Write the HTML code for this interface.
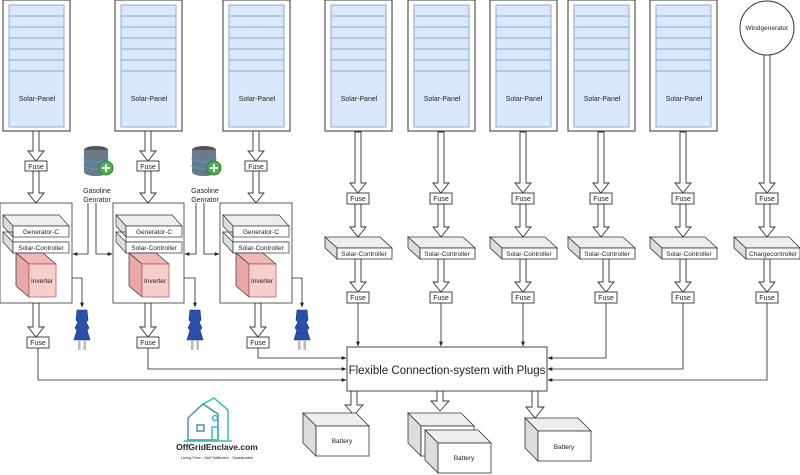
<!DOCTYPE html>
<html><head><meta charset="utf-8"><style>
html,body{margin:0;padding:0;background:#fff}
svg{display:block}
text{font-family:"Liberation Sans",sans-serif;fill:#222}
</style></head><body>
<svg width="800" height="475" viewBox="0 0 800 475" xmlns="http://www.w3.org/2000/svg">
<defs>
<g id="panel">
<rect x="0" y="0" width="67" height="131" fill="#fff" stroke="#333" stroke-width="1"/>
<rect x="6" y="5" width="55" height="122" fill="#dae8fc" stroke="#8ea9cf" stroke-width="1"/>
<path d="M6 16H61M6 27H61M6 38H61M6 49H61M6 60H61M6 71H61" stroke="#8ea9cf" stroke-width="1"/>
</g>
<marker id="ah" viewBox="0 0 10 10" refX="9" refY="5" markerWidth="6" markerHeight="6" orient="auto"><path d="M0 1L10 5L0 9z" fill="#222"/></marker>
<g id="plug">
<path d="M-5 0 L5 0 L6 10 L4 12 L7 18 L5 20 L8 30 L-8 30 L-5 20 L-7 18 L-4 12 L-6 10Z" fill="#2a4fa8" stroke="#1a2f70" stroke-width="0.6"/>
<rect x="-4" y="30" width="2.5" height="10" fill="#bbb"/><rect x="1.5" y="30" width="2.5" height="10" fill="#bbb"/>
</g>
<g id="db">
<ellipse cx="0" cy="0" rx="12" ry="4" fill="#555"/>
<path d="M-12 0V22A12 4 0 0 0 12 22V0" fill="#6c7a86"/>
<path d="M-12 8A12 4 0 0 0 12 8M-12 15A12 4 0 0 0 12 15" stroke="#4a90c8" stroke-width="1.5" fill="none"/>
<circle cx="10" cy="18" r="7" fill="#4caf50" stroke="#2e7d32"/>
<path d="M10 14V22M6 18H14" stroke="#fff" stroke-width="2"/>
</g>
</defs>

<!-- panels -->
<use href="#panel" x="3" y="0"/><use href="#panel" x="115" y="0"/><use href="#panel" x="223" y="0"/>
<use href="#panel" x="325" y="0"/><use href="#panel" x="408" y="0"/><use href="#panel" x="490" y="0"/><use href="#panel" x="568" y="0"/><use href="#panel" x="650" y="0"/>
<g font-size="7" text-anchor="middle">
<text x="37" y="101">Solar-Panel</text><text x="149" y="101">Solar-Panel</text><text x="257" y="101">Solar-Panel</text>
<text x="359" y="101">Solar-Panel</text><text x="442" y="101">Solar-Panel</text><text x="524" y="101">Solar-Panel</text><text x="602" y="101">Solar-Panel</text><text x="684" y="101">Solar-Panel</text>
</g>
<circle cx="767" cy="28" r="27" fill="#fff" stroke="#333"/>
<text x="767" y="30" font-size="6.5" text-anchor="middle">Windgenerator</text>

<!-- hollow arrows -->
<g fill="#fff" stroke="#333" stroke-width="0.9">
<!-- left columns -->
<path d="M33 131V151H28L36 161L44 151H39V131Z"/><path d="M33 171V193H28L36 203L44 193H39V171Z"/><path d="M33 303V327H28L36 337L44 327H39V303Z"/>
<path d="M145 131V151H140L148 161L156 151H151V131Z"/><path d="M145 171V193H140L148 203L156 193H151V171Z"/><path d="M145 303V327H140L148 337L156 327H151V303Z"/>
<path d="M253 131V151H248L256 161L264 151H259V131Z"/><path d="M253 171V193H248L256 203L264 193H259V171Z"/><path d="M255 303V327H250L258 337L266 327H261V303Z"/>
<!-- right columns -->
<path d="M355 132V183H350L358 193L366 183H361V132Z"/><path d="M355 204V227H350L358 237L366 227H361V204Z"/><path d="M355 259V282H350L358 292L366 282H361V259Z"/>
<path d="M438 132V183H433L441 193L449 183H444V132Z"/><path d="M438 204V227H433L441 237L449 227H444V204Z"/><path d="M438 259V282H433L441 292L449 282H444V259Z"/>
<path d="M520 132V183H515L523 193L531 183H526V132Z"/><path d="M520 204V227H515L523 237L531 227H526V204Z"/><path d="M520 259V282H515L523 292L531 282H526V259Z"/>
<path d="M598 132V183H593L601 193L609 183H604V132Z"/><path d="M598 204V227H593L601 237L609 227H604V204Z"/><path d="M603 259V282H598L606 292L614 282H609V259Z"/>
<path d="M680 132V183H675L683 193L691 183H686V132Z"/><path d="M680 204V227H675L683 237L691 227H686V204Z"/><path d="M680 259V282H675L683 292L691 282H686V259Z"/>
<path d="M764 55V183H759L767 193L775 183H770V55Z"/><path d="M764 204V227H759L767 237L775 227H770V204Z"/><path d="M764 259V282H759L767 292L775 282H770V259Z"/>
<!-- bottom -->
<path d="M351 391V405H345L354 415L363 405H357V391Z"/><path d="M437 391V401H431L440 411L449 401H443V391Z"/><path d="M532 391V407H526L535 418L544 407H538V391Z"/>
</g>

<!-- fuses -->
<g fill="#fff" stroke="#333" stroke-width="0.9">
<rect x="25" y="161" width="22" height="10"/><rect x="137" y="161" width="22" height="10"/><rect x="245" y="161" width="22" height="10"/>
<rect x="27" y="337" width="22" height="11"/><rect x="137" y="337" width="22" height="11"/><rect x="247" y="337" width="22" height="11"/>
<rect x="347" y="193" width="22" height="11"/><rect x="430" y="193" width="22" height="11"/><rect x="512" y="193" width="22" height="11"/><rect x="590" y="193" width="22" height="11"/><rect x="672" y="193" width="22" height="11"/><rect x="756" y="193" width="22" height="11"/>
<rect x="347" y="292" width="22" height="11"/><rect x="430" y="292" width="22" height="11"/><rect x="512" y="292" width="22" height="11"/><rect x="595" y="292" width="22" height="11"/><rect x="672" y="292" width="22" height="11"/><rect x="756" y="292" width="22" height="11"/>
</g>
<g font-size="7" text-anchor="middle">
<text x="36" y="169">Fuse</text><text x="148" y="169">Fuse</text><text x="256" y="169">Fuse</text>
<text x="38" y="345">Fuse</text><text x="148" y="345">Fuse</text><text x="258" y="345">Fuse</text>
<text x="358" y="201">Fuse</text><text x="441" y="201">Fuse</text><text x="523" y="201">Fuse</text><text x="601" y="201">Fuse</text><text x="683" y="201">Fuse</text><text x="767" y="201">Fuse</text>
<text x="358" y="300">Fuse</text><text x="441" y="300">Fuse</text><text x="523" y="300">Fuse</text><text x="606" y="300">Fuse</text><text x="683" y="300">Fuse</text><text x="767" y="300">Fuse</text>
</g>

<!-- right controllers -->
<g stroke="#333" stroke-width="0.8">
<g fill="#eee"><path d="M325 237H380L392 248H337Z"/><path d="M408 237H463L475 248H420Z"/><path d="M490 237H545L557 248H502Z"/><path d="M568 237H623L635 248H580Z"/><path d="M650 237H705L717 248H662Z"/><path d="M734 237H789L800 248H746Z"/></g>
<g fill="#ddd"><path d="M325 237V248L337 259V248Z"/><path d="M408 237V248L420 259V248Z"/><path d="M490 237V248L502 259V248Z"/><path d="M568 237V248L580 259V248Z"/><path d="M650 237V248L662 259V248Z"/><path d="M734 237V248L746 259V248Z"/></g>
<g fill="#fff"><rect x="337" y="248" width="55" height="11"/><rect x="420" y="248" width="55" height="11"/><rect x="502" y="248" width="55" height="11"/><rect x="580" y="248" width="55" height="11"/><rect x="662" y="248" width="55" height="11"/><rect x="746" y="248" width="54" height="11"/></g>
</g>
<g font-size="6.5" text-anchor="middle">
<text x="364" y="256">Solar-Controller</text><text x="447" y="256">Solar-Controller</text><text x="529" y="256">Solar-Controller</text><text x="607" y="256">Solar-Controller</text><text x="689" y="256">Solar-Controller</text><text x="773" y="256">Chargecontroller</text>
</g>

<!-- left big boxes -->
<g stroke="#333" stroke-width="0.8">
<rect x="0" y="203" width="72" height="100" fill="#fff"/><rect x="113" y="203" width="71" height="100" fill="#fff"/><rect x="220" y="203" width="72" height="100" fill="#fff"/>
</g>
<g id="lb" stroke="#333" stroke-width="0.7">
<path d="M3 215H59L69 226H13Z" fill="#eee"/><path d="M3 215V226L13 237V226Z" fill="#ddd"/><rect x="13" y="226" width="56" height="11" fill="#fff"/>
<path d="M3 232H13V242H69L69 242" fill="none"/><path d="M3 232V242L13 253V242Z" fill="#ddd"/><rect x="13" y="242" width="56" height="11" fill="#fff"/>
<path d="M16 253H43L56 264H29Z" fill="#f2b8b8"/><path d="M16 253V286L29 297V264Z" fill="#e8a8a8"/><rect x="29" y="264" width="27" height="33" fill="#f8cecc" stroke="#b85450"/>
</g>
<use href="#lb" x="113"/><use href="#lb" x="220"/>
<g font-size="6.5" text-anchor="middle">
<text x="41" y="234">Generator-C</text><text x="41" y="250">Solar-Controller</text><text x="42" y="283">Inverter</text>
<text x="154" y="234">Generator-C</text><text x="154" y="250">Solar-Controller</text><text x="155" y="283">Inverter</text>
<text x="261" y="234">Generator-C</text><text x="261" y="250">Solar-Controller</text><text x="262" y="283">Inverter</text>
</g>

<!-- gasoline -->
<use href="#db" x="96" y="150"/><use href="#db" x="204" y="150"/>
<g font-size="7" text-anchor="middle"><text x="97" y="193">Gasoline</text><text x="97" y="202">Genrator</text><text x="205" y="193">Gasoline</text><text x="205" y="202">Genrator</text></g>
<g stroke="#222" stroke-width="0.8" fill="none" marker-end="url(#ah)">
<path d="M88 203V254H73"/><path d="M96 203V254H112"/><path d="M196 203V254H185"/><path d="M204 203V254H219"/>
<path d="M72 278H82V307"/><path d="M184 278H195V307"/><path d="M292 278H302V307"/>
<path d="M38 348V380H346"/><path d="M148 348V369H346"/><path d="M258 348V358H346"/>
<path d="M358 303V346"/><path d="M441 303V346"/><path d="M523 303V346"/>
<path d="M606 303V358H548"/><path d="M683 303V369H548"/><path d="M767 303V380H548"/>
</g>
<use href="#plug" x="82" y="310"/><use href="#plug" x="195" y="310"/><use href="#plug" x="302" y="310"/>

<!-- connection box -->
<rect x="347" y="347" width="200" height="44" fill="#fff" stroke="#333" stroke-width="0.9"/>
<text x="447" y="374" font-size="11.5" text-anchor="middle">Flexible Connection-system with Plugs</text>

<!-- batteries -->
<g stroke="#333" stroke-width="0.8">
<path d="M303 413H356L369 426H316Z" fill="#eee"/><path d="M303 413V443L316 456V426Z" fill="#ddd"/><rect x="316" y="426" width="53" height="30" fill="#fff"/>
<path d="M408 413H461L474 426H421Z" fill="#eee"/><path d="M408 413V443L421 456V426Z" fill="#ddd"/><rect x="421" y="426" width="53" height="30" fill="#fff"/>
<path d="M425 430H478L491 443H438Z" fill="#eee"/><path d="M425 430V460L438 473V443Z" fill="#ddd"/><rect x="438" y="443" width="53" height="30" fill="#fff"/>
<path d="M525 418H578L591 431H538Z" fill="#eee"/><path d="M525 418V448L538 461V431Z" fill="#ddd"/><rect x="538" y="431" width="53" height="30" fill="#fff"/>
</g>
<g font-size="6.5" text-anchor="middle"><text x="342" y="443">Battery</text><text x="464" y="460">Battery</text><text x="564" y="449">Battery</text></g>

<!-- logo -->
<g fill="none" stroke-width="1.5">
<path d="M188 418L203 404L218 414V440H188Z" stroke="#4a8fc0"/>
<path d="M203 404L214 398L228 410V440" stroke="#3bbfa8"/>
<rect x="197" y="425" width="7" height="6" stroke="#4a8fc0"/><rect x="212" y="427" width="6" height="13" stroke="#3bbfa8"/>
<circle cx="215" cy="418" r="2.5" stroke="#3bbfa8"/>
<path d="M184 441H232" stroke="#3bbfa8"/>
</g>
<text x="217" y="450" font-size="8.5" font-weight="bold" text-anchor="middle" fill="#333">OffGridEnclave.com</text>
<text x="217" y="459" font-size="4" text-anchor="middle" fill="#aaa">Living Free - Self Sufficient - Sustainable</text>
</svg>
</body></html>
